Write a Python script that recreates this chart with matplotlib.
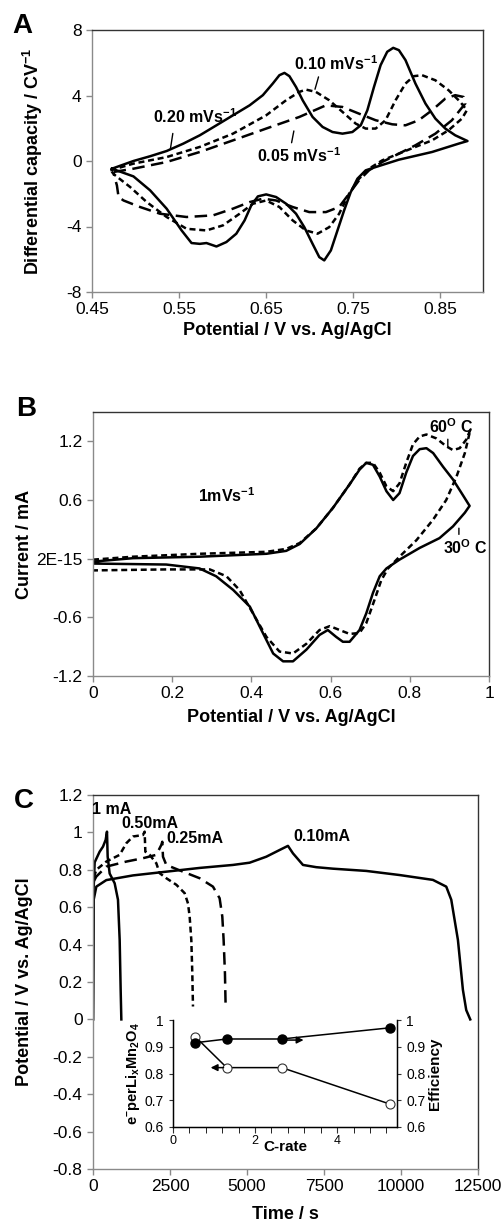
import numpy as np
import matplotlib
matplotlib.use("Agg")
import matplotlib.pyplot as plt

plt.rcParams['font.family'] = ['Liberation Sans', 'DejaVu Sans']
plt.rcParams['mathtext.fontset'] = 'custom'
plt.rcParams['mathtext.rm'] = 'Liberation Sans:bold'
plt.rcParams['mathtext.it'] = 'Liberation Sans:bold'
plt.rcParams['mathtext.bf'] = 'Liberation Sans:bold'

# ---------------- panel A: differential capacity vs potential
a20_v = [0.4729, 0.4976, 0.5167, 0.5357, 0.5548, 0.5738, 0.5929, 0.6119, 0.631, 0.6462, 0.6576,
         0.6652, 0.671, 0.6767, 0.6843, 0.6919, 0.7033, 0.7148, 0.7262, 0.7376, 0.749, 0.7586,
         0.7662, 0.7738, 0.7814, 0.789, 0.7959, 0.8024, 0.81, 0.8214, 0.8329, 0.8443, 0.8557,
         0.8671, 0.8812,
         0.871, 0.8405, 0.8024, 0.7757, 0.7643, 0.7548, 0.7471, 0.7395, 0.7319, 0.7243, 0.7167,
         0.711, 0.7033, 0.6938, 0.6843, 0.6729, 0.6614, 0.65, 0.6405, 0.6329, 0.6252, 0.6157,
         0.6043, 0.5929, 0.5814, 0.5738, 0.5643, 0.5529, 0.5357, 0.5167, 0.4976, 0.4729]
a20_c = [-0.47, 0.0, 0.29, 0.61, 1.06, 1.57, 2.18, 2.79, 3.40, 4.02, 4.73,
         5.24, 5.38, 5.18, 4.52, 3.71, 2.69, 2.08, 1.77, 1.67, 1.77, 2.18,
         3.10, 4.52, 5.85, 6.67, 6.91, 6.77, 6.16, 4.73, 3.51, 2.59, 1.98,
         1.57, 1.22,
         1.06, 0.55, 0.08, -0.37, -0.57, -1.08, -1.90, -3.02, -4.24, -5.46, -6.07,
         -5.87, -5.06, -4.04, -3.22, -2.61, -2.20, -2.04, -2.16, -2.71, -3.63, -4.44,
         -4.95, -5.22, -5.01, -5.06, -5.01, -4.24, -2.91, -1.79, -0.94, -0.47]

a10_v = [0.471, 0.4976, 0.5357, 0.5738, 0.6119, 0.65, 0.6729, 0.6881, 0.6957, 0.7071, 0.7224,
         0.7376, 0.7529, 0.7643, 0.7757, 0.7871, 0.7986, 0.81, 0.8195, 0.829, 0.8443, 0.8595,
         0.8729, 0.8805,
         0.8748, 0.8595, 0.8405, 0.8214, 0.8024, 0.7833, 0.7681, 0.7567, 0.7452, 0.7338,
         0.7224, 0.709, 0.6957, 0.6805, 0.6652, 0.65, 0.6348, 0.6195, 0.6005, 0.5814, 0.5586,
         0.5357, 0.5129, 0.4938, 0.4767, 0.471]
a10_c = [-0.57, -0.16, 0.24, 0.86, 1.67, 2.79, 3.71, 4.22, 4.36, 4.22, 3.71,
         3.0, 2.28, 1.98, 1.98, 2.49, 3.71, 4.73, 5.18, 5.24, 4.93, 4.32,
         3.61, 3.10,
         2.59, 1.88, 1.26, 0.86, 0.45, 0.04, -0.47, -1.08, -2.0, -3.22,
         -4.04, -4.44, -4.24, -3.63, -2.81, -2.41, -2.61, -3.22, -3.93, -4.24, -4.14,
         -3.42, -2.51, -1.59, -0.88, -0.57]

a05_v = [0.4748, 0.4976, 0.5357, 0.5738, 0.6119, 0.65, 0.6881, 0.7186, 0.7376, 0.7567, 0.7757,
         0.7948, 0.81, 0.8252, 0.8405, 0.8557, 0.8671, 0.8767, 0.8786,
         0.8633, 0.8443, 0.8214, 0.8024, 0.7833, 0.7681, 0.7567, 0.7452, 0.7338, 0.7186,
         0.6995, 0.6805, 0.6614, 0.6462, 0.631, 0.6119, 0.589, 0.5586, 0.5281, 0.5052,
         0.4862, 0.4805, 0.4786, 0.4748]
a05_c = [-0.67, -0.47, -0.06, 0.55, 1.26, 1.98, 2.69, 3.40, 3.30, 2.89, 2.49,
         2.24, 2.18, 2.49, 3.10, 3.81, 4.02, 3.91, 3.51,
         2.49, 1.67, 0.96, 0.45, -0.06, -0.57, -1.18, -2.0, -2.81, -3.12,
         -3.12, -2.81, -2.41, -2.30, -2.51, -2.91, -3.32, -3.42, -3.22, -2.81,
         -2.41, -2.20, -1.49, -0.77]

# ---------------- panel B: CV at 30 and 60 C
b30_v = [0, 0.101, 0.269, 0.438, 0.488, 0.522, 0.564, 0.606, 0.648, 0.673, 0.69, 0.707, 0.724,
         0.741, 0.758, 0.774, 0.791, 0.808, 0.825, 0.842, 0.859, 0.884, 0.909, 0.934, 0.951,
         0.939, 0.909, 0.875, 0.825, 0.774, 0.741, 0.724, 0.707, 0.69, 0.673, 0.648, 0.631,
         0.614, 0.593, 0.572, 0.539, 0.505, 0.48, 0.455, 0.429, 0.396, 0.354, 0.311, 0.269,
         0.185, 0]
b30_i = [-0.03, 0.005, 0.02, 0.05, 0.08, 0.15, 0.31, 0.52, 0.76, 0.91, 0.98, 0.96, 0.84,
         0.69, 0.60, 0.67, 0.88, 1.05, 1.12, 1.13, 1.08, 0.94, 0.81, 0.65, 0.54,
         0.47, 0.33, 0.21, 0.11, -0.01, -0.10, -0.18, -0.35, -0.56, -0.73, -0.85, -0.85,
         -0.80, -0.73, -0.78, -0.93, -1.05, -1.05, -0.97, -0.76, -0.49, -0.32, -0.18, -0.10,
         -0.06, -0.05]

b60_v = [0, 0.101, 0.269, 0.438, 0.488, 0.522, 0.564, 0.606, 0.648, 0.673, 0.69, 0.707, 0.724,
         0.741, 0.758, 0.774, 0.791, 0.808, 0.825, 0.842, 0.867, 0.892, 0.909, 0.926, 0.943,
         0.953,
         0.939, 0.918, 0.892, 0.859, 0.817, 0.774, 0.745, 0.728, 0.711, 0.69, 0.673, 0.648,
         0.623, 0.598, 0.572, 0.539, 0.505, 0.471, 0.438, 0.404, 0.37, 0.337, 0.295, 0.185, 0]
b60_i = [-0.01, 0.02, 0.05, 0.07, 0.10, 0.16, 0.31, 0.52, 0.76, 0.92, 0.98, 0.98, 0.88,
         0.74, 0.69, 0.77, 0.98, 1.17, 1.25, 1.27, 1.23, 1.15, 1.11, 1.13, 1.22,
         1.32,
         1.08, 0.84, 0.60, 0.40, 0.19, 0.02, -0.10, -0.22, -0.42, -0.66, -0.76, -0.77,
         -0.73, -0.69, -0.73, -0.87, -0.97, -0.95, -0.80, -0.56, -0.32, -0.18, -0.11, -0.11, -0.12]

# ---------------- panel C: charge/discharge curves
c010_t = [0, 22, 108, 433, 1298, 2380, 3462, 4544, 5085, 5626, 6060, 6330,
          6492, 6817, 7249, 7790, 8872, 9954, 11036, 11469, 11632, 11848, 12010, 12118, 12248]
c010_v = [0.0, 0.64, 0.71, 0.745, 0.77, 0.79, 0.81, 0.826, 0.838, 0.87, 0.906, 0.928,
          0.888, 0.826, 0.814, 0.806, 0.794, 0.772, 0.746, 0.71, 0.64, 0.425, 0.158, 0.05, 0.0]

c1_t = [0, 20, 54, 216, 325, 411, 454, 476, 541, 703, 811, 866, 898, 920]
c1_v = [0.0, 0.70, 0.84, 0.897, 0.924, 0.96, 1.004, 0.87, 0.78, 0.728, 0.64, 0.425, 0.158, 0.0]

c050_t = [30, 108, 433, 866, 1082, 1298, 1623, 1677, 1699, 1839, 2056, 2164, 2380, 2705,
          2976, 3084, 3138, 3192, 3224, 3246]
c050_v = [0.76, 0.80, 0.844, 0.88, 0.942, 0.978, 0.986, 1.004, 0.897, 0.88, 0.835, 0.782,
          0.755, 0.72, 0.675, 0.62, 0.55, 0.425, 0.247, 0.069]

c025_t = [30, 108, 433, 1082, 1623, 2056, 2218, 2250, 2272, 2380, 2921, 3462, 3895, 4111,
          4198, 4241, 4284, 4306]
c025_v = [0.74, 0.764, 0.817, 0.844, 0.862, 0.88, 0.933, 0.95, 0.87, 0.826, 0.79, 0.755,
          0.71, 0.648, 0.55, 0.425, 0.247, 0.069]

# inset: electrons per LixMn2O4 and efficiency vs C-rate
crate = [0.54, 1.31, 2.65, 5.3]
e_per_li = [0.938, 0.822, 0.822, 0.685]
efficiency = [0.915, 0.929, 0.929, 0.971]

W, H = 503, 1226
fig = plt.figure(figsize=(W / 100, H / 100), dpi=100)


def box(l, t, r, b):
    return [l / W, 1 - b / H, (r - l) / W, (b - t) / H]


tick_fs = 12.5
lab_fs = 13
ann_fs = 11.5
lw = 1.8
sdash = (0, (2.4, 1.5))
ldash = (0, (5, 2.6))


def style(ax):
    for s in ['left', 'bottom']:
        ax.spines[s].set_color('#8a8a8a')
    for s in ['top', 'right']:
        ax.spines[s].set_color('#333333')
    for s in ax.spines.values():
        s.set_linewidth(1.0)
    ax.tick_params(direction='out', length=4, width=1, color='#8a8a8a', labelsize=tick_fs)


# ---------- A
axA = fig.add_axes(box(92, 30, 483, 292))
axA.plot(a20_v, a20_c, color='black', lw=lw)
axA.plot(a10_v, a10_c, color='black', lw=lw, linestyle=sdash)
axA.plot(a05_v, a05_c, color='black', lw=lw, linestyle=ldash)
axA.set_xlim(0.45, 0.899)
axA.set_ylim(-8, 8)
axA.set_xticks([0.45, 0.55, 0.65, 0.75, 0.85])
axA.set_xticklabels(['0.45', '0.55', '0.65', '0.75', '0.85'])
axA.set_yticks([-8, -4, 0, 4, 8])
axA.set_yticklabels(['-8', '-4', '0', '4', '8'])
style(axA)
axA.set_xlabel('Potential / V vs. Ag/AgCl', fontsize=lab_fs, fontweight='bold')
axA.set_ylabel('Differential capacity / CV$^{-1}$', fontsize=lab_fs, fontweight='bold')
axA.xaxis.set_label_coords(0.5, -0.115)
axA.yaxis.set_label_coords(-0.12, 0.5)
axA.text(0.568, 2.69, '0.20 mVs$^{-1}$', ha='center', va='center', fontsize=ann_fs, fontweight='bold')
axA.annotate('', xy=(0.5395, 0.55), xytext=(0.5433, 1.85), arrowprops=dict(arrowstyle='-', lw=1))
axA.text(0.73, 5.95, '0.10 mVs$^{-1}$', ha='center', va='center', fontsize=ann_fs, fontweight='bold')
axA.annotate('', xy=(0.7052, 4.22), xytext=(0.711, 5.3), arrowprops=dict(arrowstyle='-', lw=1))
axA.text(0.688, 0.35, '0.05 mVs$^{-1}$', ha='center', va='center', fontsize=ann_fs, fontweight='bold')
axA.annotate('', xy=(0.6824, 2.0), xytext=(0.6786, 0.95), arrowprops=dict(arrowstyle='-', lw=1))
fig.text(22 / W, 1 - 26 / H, 'A', fontsize=20, fontweight='bold', ha='center', va='center')

# ---------- B
axB = fig.add_axes(box(93, 412, 489, 676))
axB.plot(b30_v, b30_i, color='black', lw=lw)
axB.plot(b60_v, b60_i, color='black', lw=lw, linestyle=sdash)
axB.set_xlim(0, 1)
axB.set_ylim(-1.2, 1.5)
axB.set_xticks([0, 0.2, 0.4, 0.6, 0.8, 1.0])
axB.set_xticklabels(['0', '0.2', '0.4', '0.6', '0.8', '1'])
axB.set_yticks([-1.2, -0.6, 0, 0.6, 1.2])
axB.set_yticklabels(['-1.2', '-0.6', '2E-15', '0.6', '1.2'])
style(axB)
axB.set_xlabel('Potential / V vs. Ag/AgCl', fontsize=lab_fs, fontweight='bold')
axB.set_ylabel('Current / mA', fontsize=lab_fs, fontweight='bold')
axB.xaxis.set_label_coords(0.5, -0.125)
axB.yaxis.set_label_coords(-0.152, 0.5)
axB.text(0.337, 0.64, '1mVs$^{-1}$', ha='center', va='center', fontsize=ann_fs, fontweight='bold')
axB.text(0.905, 1.35, '60$^{O}$ C', ha='center', va='center', fontsize=ann_fs, fontweight='bold')
axB.annotate('', xy=(0.896, 1.12), xytext=(0.896, 1.25), arrowprops=dict(arrowstyle='-', lw=1))
axB.text(0.94, 0.11, '30$^{O}$ C', ha='center', va='center', fontsize=ann_fs, fontweight='bold')
axB.annotate('', xy=(0.924, 0.34), xytext=(0.924, 0.22), arrowprops=dict(arrowstyle='-', lw=1))
fig.text(26 / W, 1 - 409 / H, 'B', fontsize=20, fontweight='bold', ha='center', va='center')

# ---------- C
axC = fig.add_axes(box(93, 795, 478, 1169))
axC.plot(c010_t, c010_v, color='black', lw=lw)
axC.plot(c1_t, c1_v, color='black', lw=lw)
axC.plot(c050_t, c050_v, color='black', lw=lw, linestyle=sdash)
axC.plot(c025_t, c025_v, color='black', lw=lw, linestyle=ldash)
axC.set_xlim(0, 12500)
axC.set_ylim(-0.8, 1.2)
axC.set_xticks([0, 2500, 5000, 7500, 10000, 12500])
yt = [-0.8, -0.6, -0.4, -0.2, 0, 0.2, 0.4, 0.6, 0.8, 1.0, 1.2]
axC.set_yticks(yt)
axC.set_yticklabels(['-0.8', '-0.6', '-0.4', '-0.2', '0', '0.2', '0.4', '0.6', '0.8', '1', '1.2'])
style(axC)
axC.set_xlabel('Time / s', fontsize=lab_fs, fontweight='bold')
axC.set_ylabel('Potential / V vs. Ag/AgCl', fontsize=lab_fs, fontweight='bold')
axC.xaxis.set_label_coords(0.5, -0.1)
axC.yaxis.set_label_coords(-0.156, 0.5)
axC.text(600, 1.12, '1 mA', ha='center', va='center', fontsize=ann_fs, fontweight='bold')
axC.text(1840, 1.05, '0.50mA', ha='center', va='center', fontsize=ann_fs, fontweight='bold')
axC.text(3300, 0.965, '0.25mA', ha='center', va='center', fontsize=ann_fs, fontweight='bold')
axC.text(7440, 0.978, '0.10mA', ha='center', va='center', fontsize=ann_fs, fontweight='bold')
fig.text(24 / W, 1 - 801 / H, 'C', fontsize=20, fontweight='bold', ha='center', va='center')

# ---------- inset
axI = fig.add_axes(box(173, 1020, 397, 1127))
axI2 = axI.twinx()
axI.plot(crate, e_per_li, color='black', lw=1.1, marker='o', ms=6.5, mfc='white', mec='#333333', mew=0.8)
axI2.plot(crate, efficiency, color='black', lw=1.1, marker='o', ms=6.5, mfc='black', mec='black')
for a in (axI, axI2):
    a.set_ylim(0.6, 1.0)
    a.set_yticks([0.6, 0.7, 0.8, 0.9, 1.0])
    a.set_yticklabels(['0.6', '0.7', '0.8', '0.9', '1'])
    a.tick_params(labelsize=10, direction='out', length=3, color='#333333')
axI.set_xlim(0, 5.46)
axI.set_xticks([0, 2, 4])
axI.set_xticklabels(['0', '2', '4'])
axI.set_xticks(np.arange(0, 5.5, 0.4), minor=True)
axI.tick_params(axis='x', which='both', direction='out', length=4, labelsize=9, pad=2)
for s in axI2.spines.values():
    s.set_color('black')
    s.set_linewidth(1)
axI2.spines['top'].set_visible(False)
axI.spines['top'].set_visible(False)
axI.set_xlabel('C-rate', fontsize=11, fontweight='bold', labelpad=-5)
axI.set_ylabel('e$^{-}$perLi$_{x}$Mn$_{2}$O$_{4}$', fontsize=10.5, fontweight='bold', labelpad=2)
axI2.set_ylabel('Efficiency', fontsize=11, fontweight='bold', labelpad=2)
axI.annotate('', xy=(0.85, 0.822), xytext=(1.3, 0.822),
             arrowprops=dict(arrowstyle='-|>', lw=1.1, color='black', mutation_scale=10))
axI.annotate('', xy=(3.25, 0.925), xytext=(2.65, 0.925),
             arrowprops=dict(arrowstyle='-|>', lw=1.1, color='black', mutation_scale=10))

fig.savefig('out.png', dpi=100)
